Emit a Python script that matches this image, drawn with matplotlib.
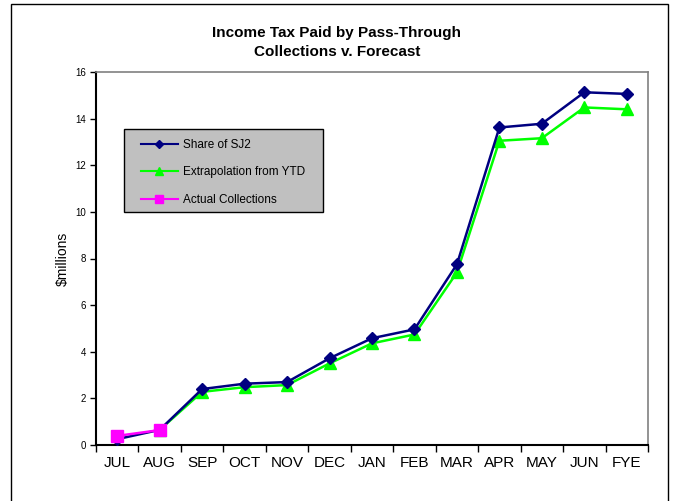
import matplotlib.pyplot as plt
from matplotlib.patches import Rectangle

plt.rcParams['font.family'] = ['Liberation Sans', 'DejaVu Sans']

months = ['JUL', 'AUG', 'SEP', 'OCT', 'NOV', 'DEC', 'JAN', 'FEB', 'MAR', 'APR', 'MAY', 'JUN', 'FYE']
share_sj2 = [0.25, 0.65, 2.4, 2.63, 2.7, 3.72, 4.58, 4.96, 7.75, 13.62, 13.78, 15.13, 15.06]
extrap = [None, 0.65, 2.28, 2.48, 2.57, 3.5, 4.36, 4.74, 7.4, 13.05, 13.16, 14.48, 14.4]
actual = [0.39, 0.64]

W, H = 674, 501
fig = plt.figure(figsize=(W / 100, H / 100), dpi=100)
ax = fig.add_axes([96 / W, 1 - 445 / H, (648 - 96) / W, (445 - 72) / H])

# outer chart border
fig.patches.append(Rectangle((11 / W, -0.05), (668 - 11) / W, 1.05 - 4 / H,
                             transform=fig.transFigure, fill=False,
                             edgecolor='black', linewidth=1))

x = list(range(len(months)))
ax.plot(x, share_sj2, color='#000080', lw=1.8, marker='D', ms=6, label='Share of SJ2', zorder=3)
xe = [i for i, v in enumerate(extrap) if v is not None]
ye = [v for v in extrap if v is not None]
ax.plot(xe, ye, color='#00FF00', lw=1.8, marker='^', ms=8, label='Extrapolation from YTD', zorder=2)
ax.plot(x[:len(actual)], actual, color='#FF00FF', lw=1.8, marker='s', ms=8, label='Actual Collections', zorder=4)

ax.set_xlim(-0.5, len(months) - 0.5)
ax.set_ylim(0, 16)
ax.set_yticks(range(0, 17, 2))
ax.tick_params(axis='y', labelsize=7, length=4, width=1, direction='out', pad=3)

ax.set_xticks(x)
ax.set_xticklabels(months, fontsize=11)
ax.tick_params(axis='x', length=0, pad=8)
ax.set_xticks([i - 0.5 for i in range(len(months) + 1)], minor=True)
ax.tick_params(axis='x', which='minor', length=5, width=1, direction='out')

for s in ['top', 'right']:
    ax.spines[s].set_color('#808080')
    ax.spines[s].set_linewidth(1.2)
for s in ['left', 'bottom']:
    ax.spines[s].set_color('black')
    ax.spines[s].set_linewidth(1.5)

ax.set_ylabel('$millions', fontsize=10, labelpad=4)

fig.text(0.5, 1 - 33 / H, 'Income Tax Paid by Pass-Through', ha='center', va='center',
         fontsize=11, fontweight='bold')
fig.text(0.5, 1 - 52 / H, 'Collections v. Forecast', ha='center', va='center',
         fontsize=11, fontweight='bold')

# legend box drawn separately, legend entries without frame on top
fig.patches.append(Rectangle((124 / W, 1 - 212 / H), (323 - 124) / W, (212 - 129) / H,
                             transform=fig.transFigure, facecolor='#C0C0C0',
                             edgecolor='black', linewidth=1, zorder=5))
leg = fig.legend(*ax.get_legend_handles_labels(), loc='upper left',
                 bbox_to_anchor=(141 / W, 1 - 139 / H), bbox_transform=fig.transFigure,
                 frameon=False, fontsize=8.5, handlelength=3.1, labelspacing=1.3,
                 borderpad=0, borderaxespad=0, handletextpad=0.45, markerscale=0.7)
leg.set_zorder(6)
for h in leg.legend_handles:
    h.set_linewidth(1.5)

fig.savefig('out.png', dpi=100)
